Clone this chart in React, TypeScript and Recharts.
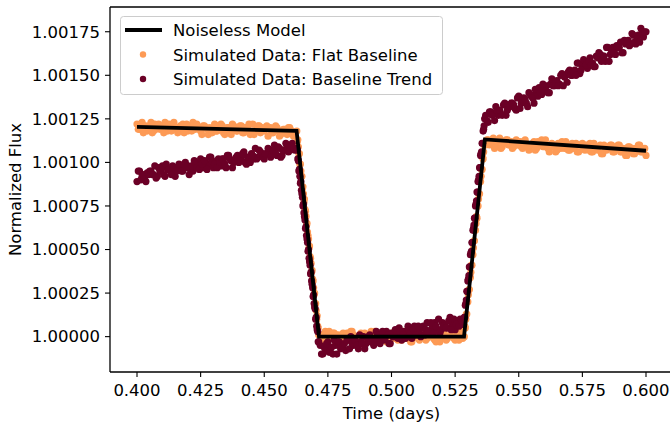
import { ComposedChart, Scatter, XAxis, YAxis, ReferenceLine, Label } from "recharts";

const FONT = "'DejaVu Sans', sans-serif";
const ORANGE = "#fd9a55";
const MAROON = "#6b0026";

const xTicks = [0.4, 0.425, 0.45, 0.475, 0.5, 0.525, 0.55, 0.575, 0.6];
const yTicks = [1.0, 1.00025, 1.0005, 1.00075, 1.001, 1.00125, 1.0015, 1.00175];
const xDomain = [0.38939, 0.61061];
const yDomain = [0.999797, 1.001892];

// noiseless transit model (corners)
const modelTimes = [0.4, 0.4627, 0.4715, 0.5285, 0.5367, 0.6];
const modelFlux = [1.001204, 1.001181, 1.0, 1.0, 1.001132, 1.001067];

// observation times, split by phase (denser through ingress / egress)
const preTimes = [
  0.4, 0.401, 0.402, 0.403, 0.404, 0.405, 0.406, 0.407, 0.408, 0.409,
  0.41, 0.411, 0.412, 0.413, 0.414, 0.415, 0.416, 0.417, 0.418, 0.419,
  0.42, 0.421, 0.422, 0.423, 0.424, 0.425, 0.426, 0.427, 0.428, 0.429,
  0.43, 0.431, 0.432, 0.433, 0.434, 0.435, 0.436, 0.437, 0.438, 0.439,
  0.44, 0.441, 0.442, 0.443, 0.444, 0.445, 0.446, 0.447, 0.448, 0.449,
  0.45, 0.451, 0.452, 0.453, 0.454, 0.455, 0.456, 0.457, 0.458, 0.459,
  0.46, 0.461, 0.462,
];
const preTimes2 = [
  0.4005, 0.4015, 0.4025, 0.4035, 0.4045, 0.4055, 0.4065, 0.4075, 0.4085, 0.4095,
  0.4105, 0.4115, 0.4125, 0.4135, 0.4145, 0.4155, 0.4165, 0.4175, 0.4185, 0.4195,
  0.4205, 0.4215, 0.4225, 0.4235, 0.4245, 0.4255, 0.4265, 0.4275, 0.4285, 0.4295,
  0.4305, 0.4315, 0.4325, 0.4335, 0.4345, 0.4355, 0.4365, 0.4375, 0.4385, 0.4395,
  0.4405, 0.4415, 0.4425, 0.4435, 0.4445, 0.4455, 0.4465, 0.4475, 0.4485, 0.4495,
  0.4505, 0.4515, 0.4525, 0.4535, 0.4545, 0.4555, 0.4565, 0.4575, 0.4585, 0.4595,
  0.4605, 0.4615,
];
const ingressTimes = [
  0.4628, 0.463, 0.4632, 0.4634, 0.4636, 0.4638, 0.464, 0.4642, 0.4644, 0.4646,
  0.4648, 0.465, 0.4652, 0.4654, 0.4656, 0.4658, 0.466, 0.4662, 0.4664, 0.4666,
  0.4668, 0.467, 0.4672, 0.4674, 0.4676, 0.4678, 0.468, 0.4682, 0.4684, 0.4686,
  0.4688, 0.469, 0.4692, 0.4694, 0.4696, 0.4698, 0.47, 0.4702, 0.4704, 0.4706,
  0.4708, 0.471, 0.4712, 0.4714,
];
const transitTimes = [
  0.472, 0.473, 0.474, 0.475, 0.476, 0.477, 0.478, 0.479, 0.48, 0.481,
  0.482, 0.483, 0.484, 0.485, 0.486, 0.487, 0.488, 0.489, 0.49, 0.491,
  0.492, 0.493, 0.494, 0.495, 0.496, 0.497, 0.498, 0.499, 0.5, 0.501,
  0.502, 0.503, 0.504, 0.505, 0.506, 0.507, 0.508, 0.509, 0.51, 0.511,
  0.512, 0.513, 0.514, 0.515, 0.516, 0.517, 0.518, 0.519, 0.52, 0.521,
  0.522, 0.523, 0.524, 0.525, 0.526, 0.527, 0.528,
];
const transitTimes2 = [
  0.4725, 0.4735, 0.4745, 0.4755, 0.4765, 0.4775, 0.4785, 0.4795, 0.4805, 0.4815,
  0.4825, 0.4835, 0.4845, 0.4855, 0.4865, 0.4875, 0.4885, 0.4895, 0.4905, 0.4915,
  0.4925, 0.4935, 0.4945, 0.4955, 0.4965, 0.4975, 0.4985, 0.4995, 0.5005, 0.5015,
  0.5025, 0.5035, 0.5045, 0.5055, 0.5065, 0.5075, 0.5085, 0.5095, 0.5105, 0.5115,
  0.5125, 0.5135, 0.5145, 0.5155, 0.5165, 0.5175, 0.5185, 0.5195, 0.5205, 0.5215,
  0.5225, 0.5235, 0.5245, 0.5255, 0.5265, 0.5275,
];
const egressTimes = [
  0.5286, 0.5288, 0.529, 0.5292, 0.5294, 0.5296, 0.5298, 0.53, 0.5302, 0.5304,
  0.5306, 0.5308, 0.531, 0.5312, 0.5314, 0.5316, 0.5318, 0.532, 0.5322, 0.5324,
  0.5326, 0.5328, 0.533, 0.5332, 0.5334, 0.5336, 0.5338, 0.534, 0.5342, 0.5344,
  0.5346, 0.5348, 0.535, 0.5352, 0.5354, 0.5356, 0.5358, 0.536, 0.5362, 0.5364,
  0.5366,
];
const postTimes = [
  0.537, 0.538, 0.539, 0.54, 0.541, 0.542, 0.543, 0.544, 0.545, 0.546,
  0.547, 0.548, 0.549, 0.55, 0.551, 0.552, 0.553, 0.554, 0.555, 0.556,
  0.557, 0.558, 0.559, 0.56, 0.561, 0.562, 0.563, 0.564, 0.565, 0.566,
  0.567, 0.568, 0.569, 0.57, 0.571, 0.572, 0.573, 0.574, 0.575, 0.576,
  0.577, 0.578, 0.579, 0.58, 0.581, 0.582, 0.583, 0.584, 0.585, 0.586,
  0.587, 0.588, 0.589, 0.59, 0.591, 0.592, 0.593, 0.594, 0.595, 0.596,
  0.597, 0.598, 0.599, 0.6,
];
const postTimes2 = [
  0.5375, 0.5385, 0.5395, 0.5405, 0.5415, 0.5425, 0.5435, 0.5445, 0.5455, 0.5465,
  0.5475, 0.5485, 0.5495, 0.5505, 0.5515, 0.5525, 0.5535, 0.5545, 0.5555, 0.5565,
  0.5575, 0.5585, 0.5595, 0.5605, 0.5615, 0.5625, 0.5635, 0.5645, 0.5655, 0.5665,
  0.5675, 0.5685, 0.5695, 0.5705, 0.5715, 0.5725, 0.5735, 0.5745, 0.5755, 0.5765,
  0.5775, 0.5785, 0.5795, 0.5805, 0.5815, 0.5825, 0.5835, 0.5845, 0.5855, 0.5865,
  0.5875, 0.5885, 0.5895, 0.5905, 0.5915, 0.5925, 0.5935, 0.5945, 0.5955, 0.5965,
  0.5975, 0.5985, 0.5995,
];

// simulated data: flat baseline
const flatPre = [
  1.00122, 1.00119, 1.00123, 1.0012, 1.00118, 1.00121, 1.00117, 1.00122, 1.0012, 1.00119,
  1.00121, 1.00123, 1.00118, 1.0012, 1.00122, 1.00119, 1.00117, 1.00121, 1.00122, 1.0012,
  1.00118, 1.00121, 1.00123, 1.00119, 1.0012, 1.00118, 1.00121, 1.0012, 1.00116, 1.00119,
  1.0012, 1.00118, 1.00121, 1.00122, 1.00117, 1.00119, 1.0012, 1.00116, 1.00121, 1.00118,
  1.00119, 1.00121, 1.00117, 1.0012, 1.00122, 1.00118, 1.00116, 1.00119, 1.00121, 1.0012,
  1.00118, 1.00121, 1.00119, 1.00117, 1.00119, 1.0012, 1.00115, 1.00118, 1.00119, 1.00116,
  1.0012, 1.00118, 1.00117,
];
const flatPre2 = [
  1.00119, 1.00122, 1.00117, 1.00121, 1.0012, 1.00123, 1.00118, 1.00119, 1.00122, 1.0012,
  1.00117, 1.00121, 1.00122, 1.00118, 1.00123, 1.0012, 1.00119, 1.00121, 1.00117, 1.00122,
  1.0012, 1.00118, 1.00121, 1.00122, 1.00119, 1.00116, 1.00121, 1.00119, 1.0012, 1.00117,
  1.00122, 1.00118, 1.00119, 1.00121, 1.00116, 1.0012, 1.00117, 1.00122, 1.00119, 1.00118,
  1.00121, 1.00117, 1.0012, 1.00119, 1.00116, 1.00122, 1.00118, 1.00121, 1.00117, 1.00119,
  1.0012, 1.00115, 1.0012, 1.00117, 1.00121, 1.00118, 1.00116, 1.00119, 1.00117, 1.0012,
  1.00118, 1.00115,
];
const flatIngress = [
  1.00118, 1.00112, 1.00113, 1.00109, 1.00105, 1.00105, 1.00099, 1.00099, 1.00095, 1.00092,
  1.00092, 1.00085, 1.00086, 1.00082, 1.00077, 1.00079, 1.00073, 1.00072, 1.00069, 1.00064,
  1.00065, 1.0006, 1.00058, 1.00056, 1.00051, 1.00052, 1.00046, 1.00045, 1.00042, 1.00037,
  1.00038, 1.00033, 1.00032, 1.00028, 1.00024, 1.00025, 1.00019, 1.00019, 1.00015, 1.0001,
  1.00012, 1.00006, 1.00005, 1.00001,
];
const flatTransit = [
  1.00001, 0.99998, 1.00003, 1.0, 0.99999, 1.00002, 0.99997, 1.00001, 1.0, 1.00002,
  0.99999, 0.99998, 1.00003, 1.00001, 0.99997, 1.0, 1.00002, 0.99999, 1.00001, 0.99998,
  1.00003, 1.0, 0.99999, 1.00002, 0.99998, 1.00001, 0.99997, 1.0, 1.00002, 0.99999,
  1.00001, 1.00003, 0.99998, 1.0, 0.99999, 1.00002, 0.99997, 1.00001, 1.0, 0.99998,
  1.00002, 1.00001, 0.99999, 1.00003, 1.0, 0.99998, 1.00001, 0.99997, 1.00002, 1.0,
  0.99999, 1.00001, 1.00002, 0.99998, 1.0, 1.00003, 0.99999,
];
const flatTransit2 = [
  0.99998, 1.00001, 1.0, 1.00003, 0.99999, 1.00002, 0.99997, 1.0, 1.00001, 0.99998,
  1.00002, 0.99999, 1.00003, 1.0, 0.99998, 1.00001, 0.99997, 1.00002, 1.0, 0.99999,
  1.00001, 1.00003, 0.99998, 1.0, 1.00002, 0.99999, 0.99997, 1.00001, 1.0, 1.00002,
  0.99998, 1.0, 1.00003, 0.99999, 1.00001, 0.99997, 1.00002, 1.0, 0.99999, 1.00001,
  1.00003, 0.99998, 1.0, 1.00002, 0.99999, 0.99997, 1.00001, 1.0, 1.00002, 0.99998,
  1.0, 1.00001, 0.99999, 1.00003, 0.99998, 1.00001,
];
const flatEgress = [
  1.0, 1.00006, 1.00005, 1.0001, 1.00013, 1.00013, 1.0002, 1.0002, 1.00024, 1.00027,
  1.00027, 1.00034, 1.00034, 1.00037, 1.00041, 1.00041, 1.00048, 1.00047, 1.00051, 1.00055,
  1.00055, 1.00061, 1.00061, 1.00065, 1.00069, 1.00068, 1.00075, 1.00075, 1.00079, 1.00082,
  1.00082, 1.00089, 1.00089, 1.00092, 1.00096, 1.00096, 1.00103, 1.00102, 1.00106, 1.0011,
  1.0011,
];
const flatPost = [
  1.0011, 1.00113, 1.00111, 1.00114, 1.00109, 1.00112, 1.00108, 1.00111, 1.00113, 1.0011,
  1.00112, 1.00109, 1.00113, 1.0011, 1.00109, 1.00112, 1.00111, 1.00107, 1.0011, 1.00112,
  1.00108, 1.00111, 1.00113, 1.00109, 1.0011, 1.00106, 1.00111, 1.0011, 1.00107, 1.00109,
  1.00112, 1.00108, 1.0011, 1.00107, 1.00111, 1.00109, 1.00106, 1.0011, 1.00111, 1.00107,
  1.00108, 1.00111, 1.00106, 1.00109, 1.00107, 1.0011, 1.00105, 1.00108, 1.00109, 1.0011,
  1.00106, 1.00108, 1.0011, 1.00106, 1.00108, 1.00104, 1.00109, 1.00107, 1.00105, 1.00108,
  1.0011, 1.00106, 1.00107, 1.00104,
];
const flatPost2 = [
  1.00113, 1.0011, 1.00111, 1.00108, 1.00112, 1.00114, 1.00109, 1.00111, 1.00113, 1.0011,
  1.00108, 1.00111, 1.0011, 1.00112, 1.00108, 1.00113, 1.00109, 1.0011, 1.00111, 1.00107,
  1.00112, 1.0011, 1.00109, 1.00113, 1.00108, 1.0011, 1.00109, 1.00106, 1.00111, 1.00108,
  1.0011, 1.00112, 1.00107, 1.00109, 1.00108, 1.00111, 1.00106, 1.0011, 1.00108, 1.0011,
  1.00107, 1.00106, 1.00111, 1.00108, 1.00109, 1.00105, 1.0011, 1.00107, 1.00108, 1.0011,
  1.00106, 1.00108, 1.0011, 1.00106, 1.00107, 1.00104, 1.00109, 1.00108, 1.00105, 1.00107,
  1.0011, 1.00106, 1.00108,
];

// simulated data: baseline trend
const trendPre = [
  1.00089, 1.00095, 1.00092, 1.0009, 1.00094, 1.00095, 1.00093, 1.00098, 1.00092, 1.00095,
  1.00098, 1.00092, 1.00096, 1.00095, 1.00098, 1.00092, 1.00096, 1.00098, 1.00095, 1.001,
  1.00098, 1.00096, 1.00095, 1.001, 1.00098, 1.00102, 1.00097, 1.001, 1.00098, 1.00103,
  1.00097, 1.001, 1.00102, 1.00098, 1.00102, 1.00097, 1.00104, 1.00101, 1.001, 1.00103,
  1.001, 1.00103, 1.00106, 1.00099, 1.00103, 1.00105, 1.00102, 1.00102, 1.00107, 1.00105,
  1.00102, 1.00105, 1.00107, 1.00105, 1.0011, 1.00104, 1.00108, 1.00104, 1.00107, 1.0011,
  1.00107, 1.00111, 1.00107,
];
const trendPre2 = [
  1.00095, 1.0009, 1.00093, 1.00089, 1.00093, 1.00095, 1.00093, 1.00091, 1.00097, 1.00096,
  1.00093, 1.00099, 1.00096, 1.00093, 1.00097, 1.00095, 1.00099, 1.00095, 1.00099, 1.00097,
  1.00093, 1.00098, 1.00101, 1.00097, 1.00096, 1.00099, 1.00101, 1.00096, 1.00103, 1.00101,
  1.00099, 1.00097, 1.001, 1.00102, 1.00099, 1.00104, 1.00102, 1.00097, 1.00101, 1.00104,
  1.00101, 1.00105, 1.001, 1.00103, 1.001, 1.00104, 1.00108, 1.00103, 1.00106, 1.00103,
  1.00105, 1.00108, 1.00103, 1.00107, 1.00105, 1.00109, 1.00103, 1.00107, 1.00111, 1.00106,
  1.00109, 1.00108,
];
const trendIngress = [
  1.00108, 1.00107, 1.00102, 1.00101, 1.00095, 1.00096, 1.00092, 1.00088, 1.00089, 1.00084,
  1.00082, 1.0008, 1.00075, 1.00076, 1.00071, 1.00069, 1.00067, 1.00062, 1.00063, 1.00058,
  1.00056, 1.00054, 1.00049, 1.0005, 1.00045, 1.00043, 1.00041, 1.00036, 1.00037, 1.00032,
  1.0003, 1.00028, 1.00023, 1.00024, 1.00019, 1.00017, 1.00016, 1.0001, 1.00011, 1.00006,
  1.00004, 1.00003, 0.99997, 0.99997,
];
const trendTransit = [
  0.99995, 0.9999, 0.99993, 0.99997, 0.99993, 0.9999, 0.99995, 0.99997, 0.99993, 0.99995,
  0.99992, 0.99998, 1.0, 0.99995, 0.99997, 0.99993, 0.99997, 1.0, 0.99996, 1.0,
  0.99997, 0.99995, 1.00003, 0.99999, 1.0, 0.99998, 1.00003, 0.99996, 1.00002, 1.0,
  1.00001, 1.00005, 0.99998, 1.00003, 1.0, 1.00004, 0.99999, 1.00006, 1.00003, 1.00002,
  1.00005, 1.00001, 1.00008, 1.00003, 1.00005, 1.00008, 1.00004, 1.00002, 1.00008, 1.00007,
  1.00005, 1.00011, 1.00007, 1.00004, 1.00009, 1.0001, 1.00007,
];
const trendTransit2 = [
  0.9999, 0.99994, 0.99996, 0.99991, 0.99994, 0.99998, 0.9999, 0.99997, 0.99994, 0.99996,
  0.99998, 0.99993, 0.99996, 0.99998, 0.99995, 1.00001, 0.99996, 0.99993, 0.99999, 1.00001,
  0.99998, 0.99997, 1.00001, 0.99996, 1.00003, 0.99999, 1.00001, 0.99996, 1.0, 1.00004,
  0.99999, 1.00003, 1.00001, 0.99999, 1.00006, 1.00002, 1.00004, 1.00001, 1.00006, 1.0,
  1.00006, 1.00004, 1.00003, 1.00008, 1.00002, 1.00006, 1.0001, 1.00004, 1.00006, 1.00005,
  1.00009, 1.00004, 1.0001, 1.00007, 1.00006, 1.00009,
];
const trendEgress = [
  1.00011, 1.00011, 1.00018, 1.00019, 1.00021, 1.00026, 1.00026, 1.00032, 1.00033, 1.00035,
  1.0004, 1.0004, 1.00047, 1.00048, 1.00049, 1.00054, 1.00054, 1.00061, 1.00062, 1.00064,
  1.00068, 1.00068, 1.00075, 1.00076, 1.00078, 1.00083, 1.00083, 1.00089, 1.0009, 1.00092,
  1.00097, 1.00097, 1.00104, 1.00105, 1.00106, 1.00111, 1.00111, 1.00118, 1.00119, 1.00121,
  1.00125,
];
const trendPost = [
  1.00127, 1.00123, 1.00129, 1.00128, 1.00132, 1.00127, 1.00128, 1.00133, 1.00127, 1.00132,
  1.00134, 1.00133, 1.0013, 1.00138, 1.00134, 1.00137, 1.00134, 1.0014, 1.00138, 1.00134,
  1.0014, 1.00143, 1.00139, 1.00142, 1.00144, 1.0014, 1.00148, 1.00144, 1.00147, 1.00145,
  1.00151, 1.00149, 1.00146, 1.00153, 1.0015, 1.00153, 1.00157, 1.00151, 1.00155, 1.00158,
  1.00154, 1.0016, 1.00157, 1.00155, 1.0016, 1.00162, 1.00161, 1.00158, 1.00166, 1.00162,
  1.00166, 1.00162, 1.00166, 1.00169, 1.00163, 1.00168, 1.0017, 1.00168, 1.00173, 1.00168,
  1.00173, 1.00177, 1.00172, 1.00175,
];
const trendPost2 = [
  1.00124, 1.00129, 1.00127, 1.00124, 1.0013, 1.0013, 1.00127, 1.00134, 1.0013, 1.00132,
  1.00134, 1.00131, 1.00137, 1.00131, 1.00136, 1.00136, 1.00132, 1.00139, 1.00137, 1.00142,
  1.00138, 1.0014, 1.00145, 1.00141, 1.0014, 1.00145, 1.00144, 1.00146, 1.00144, 1.0015,
  1.00144, 1.0015, 1.00152, 1.0015, 1.00152, 1.0015, 1.00157, 1.00153, 1.00159, 1.00156,
  1.00158, 1.00156, 1.00155, 1.00161, 1.00163, 1.00158, 1.00161, 1.00166, 1.00158, 1.00164,
  1.00163, 1.00167, 1.00166, 1.00163, 1.0017, 1.00169, 1.00167, 1.00174, 1.00169, 1.00171,
  1.00169, 1.00175, 1.00175,
];

type Pt = { t: number; f: number };

function zip(times: number[], flux: number[]): Pt[] {
  return times.map((t, i) => ({ t, f: flux[i] })).filter((p) => p.f !== undefined);
}

const timeSegments = [preTimes, preTimes2, ingressTimes, transitTimes, transitTimes2, egressTimes, postTimes, postTimes2];
const flatSegments = [flatPre, flatPre2, flatIngress, flatTransit, flatTransit2, flatEgress, flatPost, flatPost2];
const trendSegments = [trendPre, trendPre2, trendIngress, trendTransit, trendTransit2, trendEgress, trendPost, trendPost2];

const flatData = timeSegments.flatMap((ts, i) => zip(ts, flatSegments[i]));
const trendData = timeSegments.flatMap((ts, i) => zip(ts, trendSegments[i]));
const modelData = zip(modelTimes, modelFlux);

const dot = (color: string) => (p: any) =>
  p.cx == null ? <g /> : <circle cx={p.cx} cy={p.cy} r={3.6} fill={color} />;
const noDot = () => <g />;

const tickStyle = { fill: "#000", fontSize: 16.5, fontFamily: FONT };

function LegendBox() {
  return (
    <svg width={670} height={426} style={{ position: "absolute", left: 0, top: 0, pointerEvents: "none" }}>
      <rect x={120.5} y={16.5} width={322} height={78} rx={3} fill="#fff" fillOpacity={0.8} stroke="#cccccc" />
      <line x1={125} x2={162} y1={30} y2={30} stroke="#000" strokeWidth={3.8} />
      <circle cx={143} cy={54.5} r={3.2} fill={ORANGE} />
      <circle cx={143} cy={79} r={3.2} fill={MAROON} />
      <g fontFamily={FONT} fontSize={16.5} fill="#000">
        <text x={173} y={36}>Noiseless Model</text>
        <text x={173} y={60.5}>Simulated Data: Flat Baseline</text>
        <text x={173} y={85}>Simulated Data: Baseline Trend</text>
      </g>
    </svg>
  );
}

export default function App() {
  return (
    <div style={{ position: "absolute", left: 0, top: 0, width: 670, height: 426, overflow: "hidden", background: "#fff" }}>
      <ComposedChart width={680} height={426} margin={{ top: 7, right: 7, left: 0, bottom: 0 }}>
        <XAxis
          dataKey="t"
          type="number"
          domain={xDomain}
          allowDataOverflow
          ticks={xTicks}
          interval={0}
          tickFormatter={(v: number) => v.toFixed(3)}
          tick={tickStyle}
          tickSize={5}
          tickMargin={7}
          height={54}
          axisLine={{ stroke: "#000", strokeWidth: 1.3 }}
          tickLine={{ stroke: "#000", strokeWidth: 1.1 }}
        >
          <Label value="Time (days)" position="insideBottom" offset={7} fill="#000" fontSize={16.5} fontFamily={FONT} />
        </XAxis>
        <YAxis
          dataKey="f"
          type="number"
          domain={yDomain}
          allowDataOverflow
          ticks={yTicks}
          interval={0}
          tickFormatter={(v: number) => v.toFixed(5)}
          tick={tickStyle}
          tickSize={5}
          tickMargin={5}
          width={110}
          axisLine={{ stroke: "#000", strokeWidth: 1.3 }}
          tickLine={{ stroke: "#000", strokeWidth: 1.1 }}
        >
          <Label
            value="Normalized Flux"
            angle={-90}
            position="insideLeft"
            offset={15}
            fill="#000"
            fontSize={16.5}
            fontFamily={FONT}
            style={{ textAnchor: "middle" }}
          />
        </YAxis>
        <ReferenceLine y={yDomain[1]} stroke="#000" strokeWidth={1.3} />
        <ReferenceLine x={xDomain[1]} stroke="#000" strokeWidth={1.3} />
        <Scatter name="Simulated Data: Flat Baseline" data={flatData} fill={ORANGE} shape={dot(ORANGE)} isAnimationActive={false} />
        <Scatter name="Simulated Data: Baseline Trend" data={trendData} fill={MAROON} shape={dot(MAROON)} isAnimationActive={false} />
        <Scatter
          name="Noiseless Model"
          data={modelData}
          fill="#000"
          shape={noDot}
          line={{ stroke: "#000", strokeWidth: 3.8 }}
          lineType="joint"
          isAnimationActive={false}
        />
      </ComposedChart>
      <LegendBox />
    </div>
  );
}
